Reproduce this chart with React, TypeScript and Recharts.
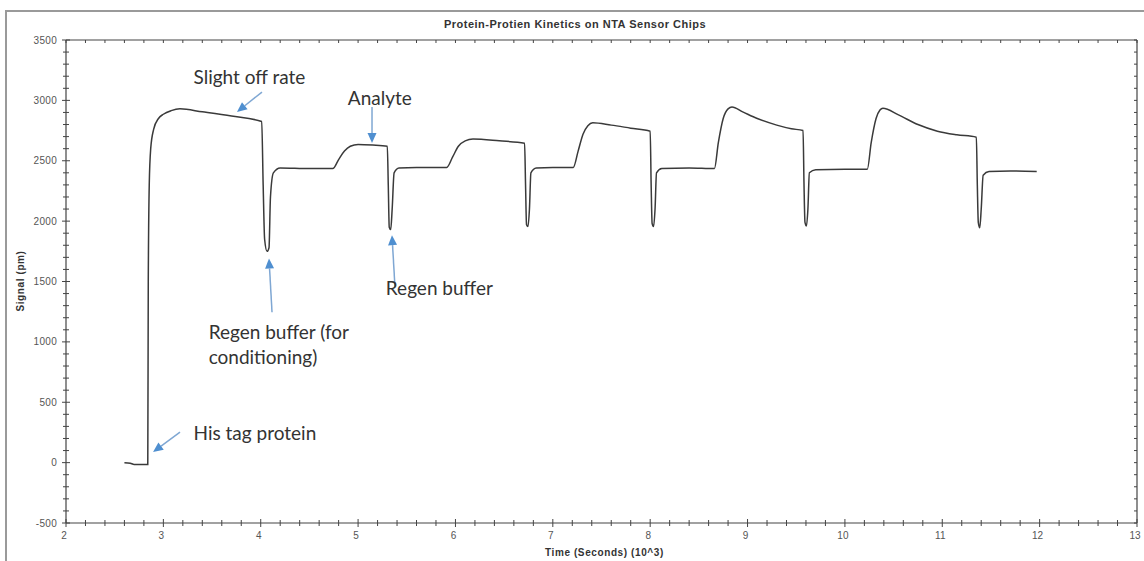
import React from 'react';
import { LineChart, Line, XAxis, YAxis, ReferenceLine, ReferenceDot } from 'recharts';

// time in 10^3 s, signal in pm
const timeK = [
  2.6, 2.66, 2.7, 2.84,
  2.845, 2.855, 2.87, 2.9, 2.95, 3.0, 3.08, 3.17, 3.4, 3.7, 4.01,
  4.025, 4.04, 4.065, 4.085, 4.1, 4.13, 4.2, 4.5, 4.74,
  4.8, 4.86, 4.92, 5.0, 5.15, 5.3,
  5.31, 5.32, 5.335, 5.35, 5.37, 5.42, 5.6, 5.91,
  5.97, 6.03, 6.1, 6.18, 6.45, 6.71,
  6.72, 6.73, 6.745, 6.76, 6.775, 6.83, 7.0, 7.21,
  7.26, 7.31, 7.36, 7.41, 7.6, 7.8, 8.0,
  8.01, 8.02, 8.035, 8.05, 8.065, 8.12, 8.4, 8.66,
  8.7, 8.75, 8.8, 8.84, 8.95, 9.1, 9.3, 9.45, 9.57,
  9.58, 9.59, 9.605, 9.62, 9.635, 9.7, 10.0, 10.23,
  10.27, 10.32, 10.36, 10.39, 10.55, 10.75, 10.95, 11.15, 11.35,
  11.36, 11.37, 11.385, 11.4, 11.42, 11.48, 11.7, 11.97,
];
const signal = [
  0, -5, -15, -15,
  1500, 2300, 2600, 2760, 2850, 2885, 2915, 2930, 2905, 2870, 2825,
  2300, 1850, 1750, 1780, 2200, 2400, 2440, 2435, 2435,
  2510, 2580, 2620, 2635, 2630, 2620,
  2300, 1950, 1930, 2100, 2400, 2440, 2445, 2445,
  2530, 2620, 2665, 2680, 2665, 2645,
  2300, 1970, 1955, 2100, 2400, 2440, 2445, 2445,
  2580, 2720, 2790, 2815, 2795, 2770, 2745,
  2300, 1980, 1955, 2100, 2400, 2435, 2440, 2435,
  2650, 2850, 2930, 2945, 2905, 2850, 2795, 2765, 2750,
  2300, 1990, 1960, 2100, 2400, 2425, 2430, 2430,
  2650, 2850, 2920, 2935, 2880, 2800, 2745, 2715, 2695,
  2300, 1990, 1945, 2100, 2380, 2410, 2415, 2410,
];

const xMajor = [2, 3, 4, 5, 6, 7, 8, 9, 10, 11, 12, 13];
const yMajor = [-500, 0, 500, 1000, 1500, 2000, 2500, 3000, 3500];

// annotation text (start-anchored, in data coords)
const noteText = ['Slight off rate', 'Analyte', 'Regen buffer (for', 'conditioning)', 'Regen buffer', 'His tag protein'];
const noteX = [3.31, 4.895, 3.465, 3.465, 5.285, 3.31];
const noteY = [3190, 3020, 1080, 875, 1440, 245];

// blue arrows: tail -> tip
const arrowFromX = [4.013, 5.143, 4.116, 5.379, 3.171];
const arrowFromY = [3069, 2945, 1245, 1453, 253];
const arrowToX = [3.756, 5.143, 4.085, 5.348, 2.894];
const arrowToY = [2904, 2646, 1690, 1884, 88];

const data = timeK.map((t, i) => ({ t, signal: signal[i] }));

const xTicks: number[] = [];
for (let i = 0; i < xMajor.length - 1; i++) {
  for (let k = 0; k < 5; k++) xTicks.push(Math.round((xMajor[i] + k * 0.2) * 10) / 10);
}
xTicks.push(xMajor[xMajor.length - 1]);
const yTicks: number[] = [];
for (let i = 0; i < yMajor.length - 1; i++) {
  for (let k = 0; k < 5; k++) yTicks.push(yMajor[i] + k * 100);
}
yTicks.push(yMajor[yMajor.length - 1]);

const axisColor = '#444';
const tickFont = '"Liberation Sans", Arial, sans-serif';
const noteFont = 'Lato, "Open Sans", sans-serif';
const isMajor = (v: number, step: number) => Math.abs(v / step - Math.round(v / step)) < 1e-6;

const BottomTick = (p: any) => {
  const v = p.payload.value;
  const major = isMajor(v, 1);
  const h = major ? 4 : 3;
  return (
    <g>
      <line x1={p.x} x2={p.x} y1={p.y - h} y2={p.y + h} stroke={axisColor} />
      {major && (
        <text x={p.x - 2} y={p.y + 16} textAnchor="middle" fontSize={10} fill="#555" fontFamily={tickFont}>
          {v}
        </text>
      )}
    </g>
  );
};

const TopTick = (p: any) => <line x1={p.x} x2={p.x} y1={p.y} y2={p.y + 3} stroke={axisColor} />;

const LeftTick = (p: any) => {
  const v = p.payload.value;
  const major = isMajor(v, 500);
  const h = major ? 4 : 3;
  return (
    <g>
      <line x1={p.x - h} x2={p.x + h} y1={p.y} y2={p.y} stroke={axisColor} />
      {major && (
        <text x={p.x - 9} y={p.y + 3.5} textAnchor="end" fontSize={10} letterSpacing={0.3} fill="#555" fontFamily={tickFont}>
          {v}
        </text>
      )}
    </g>
  );
};

const RightTick = (p: any) => <line x1={p.x - 3} x2={p.x} y1={p.y} y2={p.y} stroke={axisColor} />;

const Arrow = (p: any) => {
  const { x1, y1, x2, y2 } = p;
  const dx = x2 - x1;
  const dy = y2 - y1;
  const len = Math.sqrt(dx * dx + dy * dy) || 1;
  const ux = dx / len;
  const uy = dy / len;
  const hl = 10;
  const hw = 4.5;
  const bx = x2 - ux * hl;
  const by = y2 - uy * hl;
  return (
    <g>
      <line x1={x1} y1={y1} x2={bx} y2={by} stroke="#7fa7d3" strokeWidth={1.5} />
      <polygon
        points={`${x2},${y2} ${bx - uy * hw},${by + ux * hw} ${bx + uy * hw},${by - ux * hw}`}
        fill="#4f8fd0"
      />
    </g>
  );
};

const App: React.FC = () => {
  return (
    <div style={{ position: 'fixed', left: 0, top: 0, width: 1144, height: 561, background: '#fff', overflow: 'hidden' }}>
      {/* frame */}
      <div style={{ position: 'absolute', left: 5, top: 10, width: 1139, height: 551, borderTop: '2px solid #9a9a9a', borderLeft: '2px solid #9a9a9a' }} />
      <div
        style={{
          position: 'absolute', left: 0, width: 1144, top: 18, textAlign: 'center', letterSpacing: 0.5,
          font: 'bold 11px "Liberation Sans", Arial, sans-serif', color: '#333',
        }}
      >
        <span style={{ position: 'relative', left: 3 }}>Protein-Protien Kinetics on NTA Sensor Chips</span>
      </div>
      <div
        style={{
          position: 'absolute', left: 545, top: 547, whiteSpace: 'nowrap', letterSpacing: 0.6,
          font: 'bold 10px "Liberation Sans", Arial, sans-serif', color: '#333',
        }}
      >
        Time (Seconds) (10^3)
      </div>
      <div
        style={{
          position: 'absolute', left: 20, top: 281, transform: 'translate(-50%, -50%) rotate(-90deg)', letterSpacing: 0.6,
          whiteSpace: 'nowrap', font: 'bold 10px "Liberation Sans", Arial, sans-serif', color: '#333',
        }}
      >
        Signal (pm)
      </div>
      <div style={{ position: 'absolute', left: 0, top: 0 }}>
        <LineChart width={1144} height={561} data={data} margin={{ top: 0, right: 0, bottom: 0, left: 0 }}>
          <XAxis
            xAxisId="bottom" dataKey="t" type="number" domain={[2, 13]} ticks={xTicks} interval={0}
            height={38} tickSize={0} tickMargin={0} tickLine={false} tick={<BottomTick />}
            axisLine={{ stroke: axisColor, strokeWidth: 1.2 }} allowDataOverflow
          />
          <XAxis
            xAxisId="top" dataKey="t" orientation="top" type="number" domain={[2, 13]} ticks={xTicks} interval={0}
            height={40} tickSize={0} tickMargin={0} tickLine={false} tick={<TopTick />}
            axisLine={{ stroke: axisColor, strokeWidth: 1.2 }} allowDataOverflow
          />
          <YAxis
            yAxisId="left" type="number" domain={[-500, 3500]} ticks={yTicks} interval={0}
            width={66} tickSize={0} tickMargin={0} tickLine={false} tick={<LeftTick />}
            axisLine={{ stroke: axisColor, strokeWidth: 1.2 }} allowDataOverflow
          />
          <YAxis
            yAxisId="right" dataKey="signal" orientation="right" type="number" domain={[-500, 3500]} ticks={yTicks} interval={0}
            width={7} tickSize={0} tickMargin={0} tickLine={false} tick={<RightTick />}
            axisLine={{ stroke: axisColor, strokeWidth: 1.2 }} allowDataOverflow
          />
          <Line
            xAxisId="bottom" yAxisId="left" type="monotone" dataKey="signal" stroke="#3a3a3a"
            strokeWidth={1.5} dot={false} activeDot={false} isAnimationActive={false}
          />
          {arrowFromX.map((fx, i) => (
            <ReferenceLine
              key={`a${i}`} xAxisId="bottom" yAxisId="left" ifOverflow="visible"
              segment={[{ x: fx, y: arrowFromY[i] }, { x: arrowToX[i], y: arrowToY[i] }]}
              shape={(p: any) => <Arrow {...p} />}
            />
          ))}
          {noteText.map((txt, i) => (
            <ReferenceDot
              key={`n${i}`} xAxisId="bottom" yAxisId="left" x={noteX[i]} y={noteY[i]} r={0} ifOverflow="visible"
              shape={(p: any) => (
                <text x={p.cx} y={p.cy} dy="0.35em" fontSize={19} fill="#333" fontFamily={noteFont}>
                  {txt}
                </text>
              )}
            />
          ))}
        </LineChart>
      </div>
    </div>
  );
};

export default App;
